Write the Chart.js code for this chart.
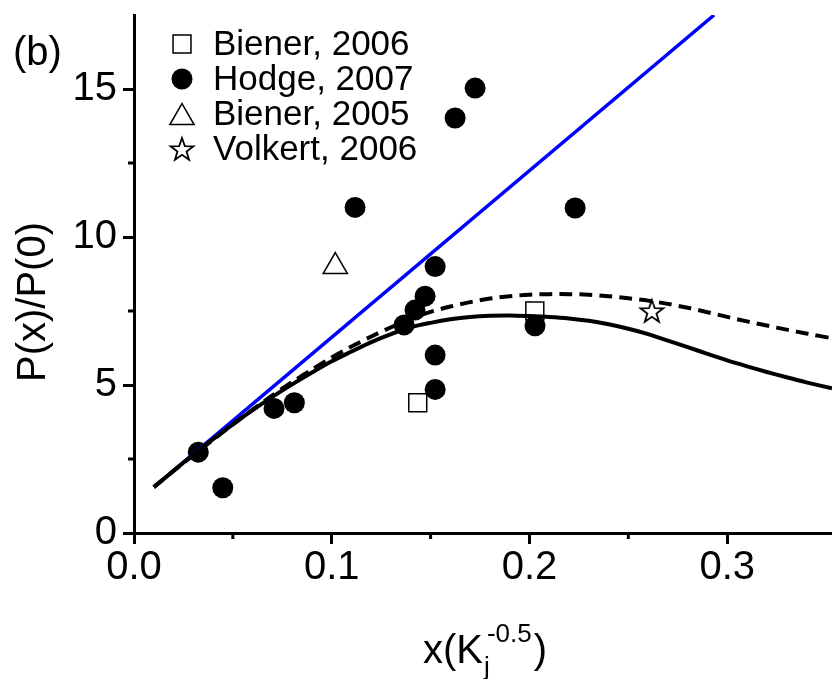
<!DOCTYPE html>
<html>
<head>
<meta charset="utf-8">
<script src="https://cdn.jsdelivr.net/npm/chart.js@4/dist/chart.umd.min.js"></script>
<style>
    html, body { margin: 0; padding: 0; background: #fff; }
    canvas { display: block; }
</style>
</head>
<body>
<canvas id="chart" width="832" height="679"></canvas>
<script>
const seriesNames = ['Biener, 2006', 'Hodge, 2007', 'Biener, 2005', 'Volkert, 2006'];

const hodgeX = [0.0325, 0.0449, 0.0708, 0.0811, 0.1118, 0.1366, 0.1421, 0.1472, 0.1523, 0.1523, 0.1523, 0.1624, 0.1725, 0.2028, 0.2231];
const hodgeY = [2.73, 1.53, 4.21, 4.40, 11.0, 7.03, 7.53, 8.0, 9.0, 6.01, 4.85, 14.02, 15.03, 7.0, 10.98];

const biener2006X = [0.1435, 0.2027];
const biener2006Y = [4.4, 7.5];

const biener2005X = [0.1018];
const biener2005Y = [9.0];

const volkertX = [0.2619];
const volkertY = [7.5];

// model curves
const curveX = [0.01, 0.02, 0.03, 0.04, 0.05, 0.06, 0.07, 0.08, 0.09, 0.10, 0.11, 0.12, 0.13, 0.14, 0.15, 0.16, 0.17, 0.18,
    0.19, 0.20, 0.21, 0.22, 0.23, 0.24, 0.25, 0.26, 0.27, 0.28, 0.29, 0.30, 0.31, 0.32, 0.33, 0.34, 0.353];
const solidY = [1.55, 2.1, 2.65, 3.17, 3.67, 4.15, 4.6, 5.02, 5.42, 5.8, 6.13, 6.45, 6.72, 6.95, 7.1, 7.22, 7.3, 7.34,
    7.35, 7.33, 7.3, 7.25, 7.17, 7.05, 6.9, 6.72, 6.5, 6.28, 6.05, 5.83, 5.63, 5.44, 5.26, 5.09, 4.89];
const dashedY = [1.55, 2.1, 2.63, 3.15, 3.67, 4.17, 4.65, 5.1, 5.52, 5.93, 6.3, 6.64, 6.95, 7.23, 7.47, 7.65, 7.8, 7.92,
    8.0, 8.05, 8.07, 8.07, 8.05, 8.0, 7.93, 7.85, 7.74, 7.61, 7.46, 7.3, 7.15, 7.01, 6.87, 6.74, 6.58];

const blueLineX = [0.0101, 0.2934];
const blueLineY = [1.55, 17.5];

const xMajorTicks = [0, 0.1, 0.2, 0.3];
const xMinorTicks = [0.05, 0.15, 0.25];
const yMajorTicks = [0, 5, 10, 15];
const yMinorTicks = [2.5, 7.5, 12.5];

const FONT = "'Liberation Sans', Arial, sans-serif";

function toPoints(xs, ys) {
    return xs.map((x, i) => ({ x, y: ys[i] }));
}

function makeStar(size, outer, inner) {
    const c = document.createElement('canvas');
    c.width = size;
    c.height = size;
    const g = c.getContext('2d');
    g.beginPath();
    for (let i = 0; i < 10; i++) {
        const r = i % 2 ? inner : outer;
        const a = -Math.PI / 2 + i * Math.PI / 5;
        g.lineTo(size / 2 + r * Math.cos(a), size / 2 + 1 + r * Math.sin(a));
    }
    g.closePath();
    g.fillStyle = '#fff';
    g.fill();
    g.lineWidth = 1.8;
    g.strokeStyle = '#000';
    g.stroke();
    return c;
}

const starImage = makeStar(28, 12, 4.8);

const markerSets = [
    { label: seriesNames[0], data: toPoints(biener2006X, biener2006Y), pointStyle: 'rect', pointRadius: 12.7,
      backgroundColor: '#fff', borderColor: '#000', borderWidth: 1.5, order: 5 },
    { label: seriesNames[1], data: toPoints(hodgeX, hodgeY), pointStyle: 'circle', pointRadius: 10.5,
      backgroundColor: '#000', borderColor: '#000', borderWidth: 0, order: 4 },
    { label: seriesNames[2], data: toPoints(biener2005X, biener2005Y), pointStyle: 'triangle', pointRadius: 14,
      backgroundColor: '#fff', borderColor: '#000', borderWidth: 1.5, order: 6 },
    { label: seriesNames[3], data: toPoints(volkertX, volkertY), pointStyle: starImage, pointRadius: 12,
      backgroundColor: '#fff', borderColor: '#000', borderWidth: 1.5, order: 7 }
];

const lineSets = [
    { label: 'model', data: toPoints(curveX, solidY), showLine: true, pointRadius: 0, borderColor: '#000',
      borderWidth: 4, tension: 0.3, order: 1 },
    { label: 'model dashed', data: toPoints(curveX, dashedY), showLine: true, pointRadius: 0, borderColor: '#000',
      borderWidth: 4, borderDash: [13, 7], tension: 0.3, order: 2 },
    { label: 'linear', data: toPoints(blueLineX, blueLineY), showLine: true, pointRadius: 0, borderColor: '#0000ff',
      borderWidth: 3.5, order: 3 }
];

function drawMarker(ctx, ds, x, y) {
    ctx.save();
    ctx.fillStyle = ds.backgroundColor;
    ctx.strokeStyle = ds.borderColor;
    ctx.lineWidth = ds.borderWidth;
    let yy = y;
    if (ds.pointStyle === 'triangle') yy = y + ds.pointRadius / 4;
    Chart.helpers.drawPoint(ctx, {
        pointStyle: ds.pointStyle, rotation: 0, radius: ds.pointRadius, borderWidth: ds.borderWidth
    }, x, yy);
    ctx.restore();
}

const extras = {
    id: 'extras',
    afterDraw(chart) {
        const ctx = chart.ctx;
        const xs = chart.scales.x;
        const ys = chart.scales.y;

        // minor ticks
        ctx.save();
        ctx.strokeStyle = '#000';
        ctx.lineWidth = 3;
        ctx.beginPath();
        xMinorTicks.forEach((v) => {
            const px = xs.getPixelForValue(v);
            ctx.moveTo(px, xs.top);
            ctx.lineTo(px, xs.top + 6);
        });
        yMinorTicks.forEach((v) => {
            const py = ys.getPixelForValue(v);
            ctx.moveTo(ys.right, py);
            ctx.lineTo(ys.right - 6, py);
        });
        ctx.stroke();
        ctx.restore();

        // legend inside the plot
        ctx.save();
        ctx.font = '35px ' + FONT;
        ctx.fillStyle = '#000';
        ctx.textBaseline = 'middle';
        ctx.textAlign = 'left';
        seriesNames.forEach((name, i) => {
            const ds = markerSets[i];
            const rowY = 44 + i * 35;
            drawMarker(ctx, ds, 182, rowY);
            ctx.fillText(name, 213, rowY + 1);
        });
        ctx.restore();

        // panel tag
        ctx.save();
        ctx.font = '40px ' + FONT;
        ctx.fillStyle = '#000';
        ctx.textBaseline = 'alphabetic';
        ctx.fillText('(b)', 13, 65);
        ctx.restore();

        // y title
        ctx.save();
        ctx.font = '40px ' + FONT;
        ctx.fillStyle = '#000';
        ctx.translate(45, 302);
        ctx.rotate(-Math.PI / 2);
        ctx.textAlign = 'center';
        ctx.textBaseline = 'alphabetic';
        ctx.fillText('P(x)/P(0)', 0, 0);
        ctx.restore();

        // x title with sub/superscript
        ctx.save();
        ctx.fillStyle = '#000';
        ctx.textBaseline = 'alphabetic';
        ctx.textAlign = 'left';
        const base = 663;
        ctx.font = '40px ' + FONT;
        const mainW = ctx.measureText('x(K').width;
        const closeW = ctx.measureText(')').width;
        ctx.font = '26px ' + FONT;
        const supW = ctx.measureText('-0.5').width;
        const total = mainW + 4 + supW + 2 + closeW;
        let x = (xs.left + xs.right) / 2 - total / 2 + 2;
        ctx.font = '40px ' + FONT;
        ctx.fillText('x(K', x, base);
        x += mainW;
        ctx.font = '26px ' + FONT;
        ctx.fillText('j', x + 1, base + 12);
        ctx.fillText('-0.5', x + 4, base - 21);
        x += 4 + supW + 2;
        ctx.font = '40px ' + FONT;
        ctx.fillText(')', x, base);
        ctx.restore();
    }
};

new Chart(document.getElementById('chart'), {
    type: 'scatter',
    data: { datasets: [...markerSets, ...lineSets] },
    options: {
        responsive: false,
        animation: false,
        events: [],
        layout: { autoPadding: false, padding: { top: 15, right: 0, bottom: 0, left: 0 } },
        plugins: { legend: { display: false }, tooltip: { enabled: false } },
        scales: {
            x: {
                type: 'linear',
                min: 0,
                max: 0.353,
                afterBuildTicks: (scale) => { scale.ticks = xMajorTicks.map((v) => ({ value: v })); },
                afterFit: (scale) => {
                    scale.height = 146;
                    scale.paddingLeft = 0;
                    scale.paddingRight = 0;
                },
                border: { display: true, color: '#000', width: 3 },
                grid: { display: true, drawOnChartArea: false, drawTicks: true, tickLength: 11, tickWidth: 3, tickColor: '#000' },
                ticks: {
                    color: '#000',
                    padding: 0,
                    maxRotation: 0,
                    autoSkip: false,
                    font: { family: FONT, size: 40 },
                    callback: (v) => Number(v).toFixed(1)
                }
            },
            y: {
                type: 'linear',
                min: 0,
                max: 17.5,
                afterBuildTicks: (scale) => { scale.ticks = yMajorTicks.map((v) => ({ value: v })); },
                afterFit: (scale) => {
                    scale.width = 134;
                    scale.paddingTop = 0;
                    scale.paddingBottom = 0;
                },
                border: { display: true, color: '#000', width: 3 },
                grid: { display: true, drawOnChartArea: false, drawTicks: true, tickLength: 11, tickWidth: 3, tickColor: '#000' },
                ticks: {
                    color: '#000',
                    padding: 6,
                    autoSkip: false,
                    font: { family: FONT, size: 40 },
                    callback: (v) => String(v)
                }
            }
        }
    },
    plugins: [extras]
});
</script>
</body>
</html>
